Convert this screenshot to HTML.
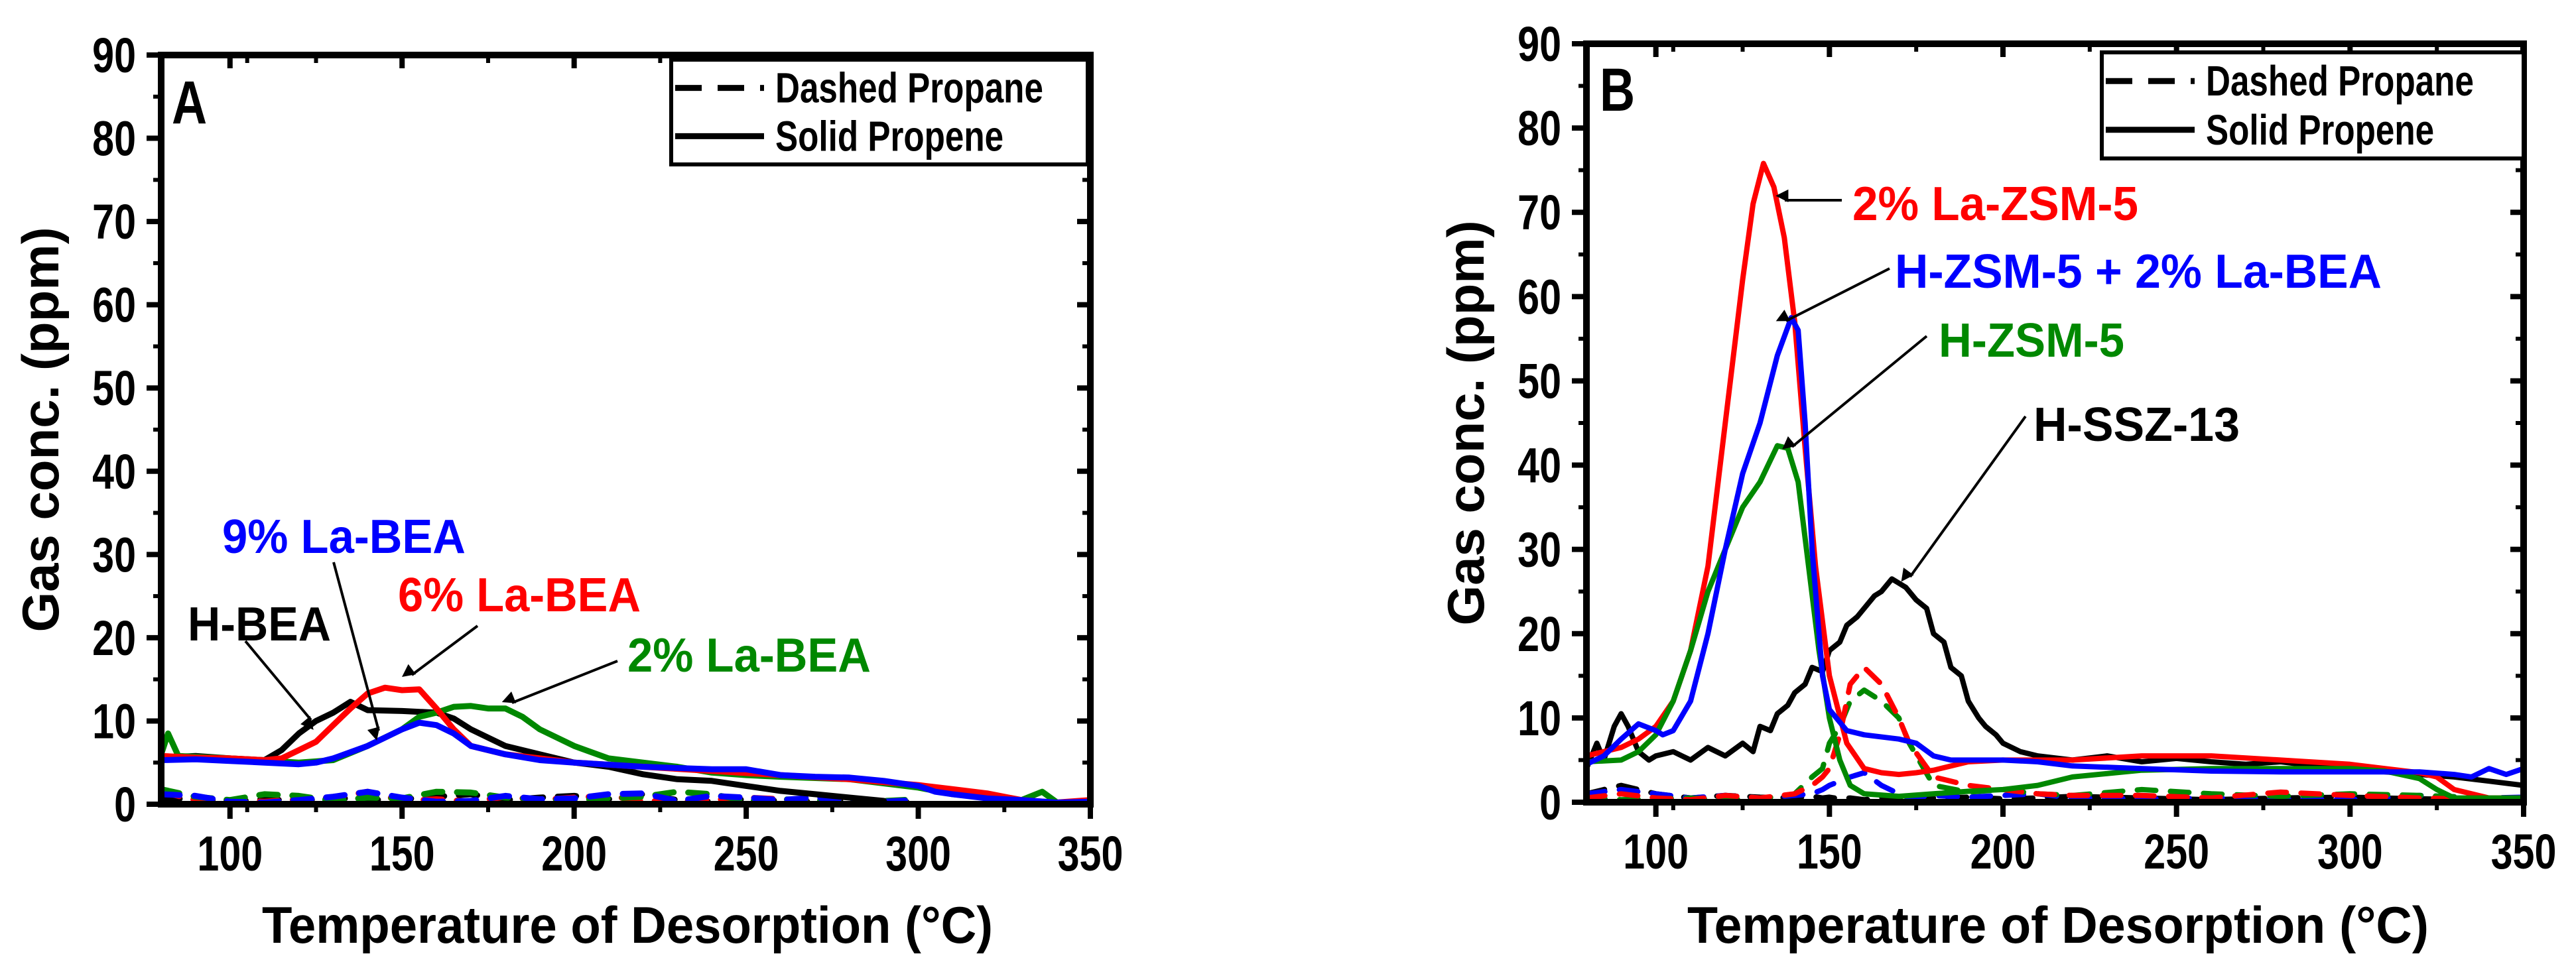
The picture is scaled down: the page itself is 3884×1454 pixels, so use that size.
<!DOCTYPE html>
<html><head><meta charset="utf-8"><style>
html,body{margin:0;padding:0;background:#fff}
svg{display:block}
text{font-family:"Liberation Sans",sans-serif;font-weight:bold}
</style></head><body>
<svg id="chart" width="3884" height="1454" viewBox="0 0 3884 1454" xmlns="http://www.w3.org/2000/svg">
<defs><marker id="ah" viewBox="0 0 10 10" refX="9" refY="5" markerWidth="6" markerHeight="6" orient="auto" markerUnits="userSpaceOnUse" style="overflow:visible"><path d="M0,0 L10,5 L0,10 z" transform="scale(3.2)" fill="#000"/></marker></defs>
<g id="panelA"></g>
<g id="panelB"></g>
</svg>
<script>
const xTicks=[100,150,200,250,300,350];
const yTicks=[0,10,20,30,40,50,60,70,80,90];
// Panel A solid (propene)
const aT_black=[80,90,100,110,115,120,125,130,135,140,150,160,165,170,180,190,200,210,220,230,240,250,260,270,280,290];
const aV_black=[5.6,5.8,5.5,5.3,6.5,8.5,10,11,12.3,11.3,11.2,11,10.3,9,7,6,5,4.5,3.6,3,2.8,2.2,1.6,1.2,0.8,0.4];
const aT_red=[80,90,100,110,115,120,125,130,135,140,145,150,155,160,165,170,180,190,200,220,240,260,280,300,310,320,330,340,350];
const aV_red=[5.8,5.6,5.5,5.3,5.5,6.5,7.5,9.5,11.5,13.3,14,13.7,13.8,11.5,9,7,6,5.5,5,4.5,4,3.5,3,2.3,1.8,1.3,0.5,0.2,0.5];
const aT_blue=[80,90,100,110,120,125,130,140,145,150,155,160,165,170,180,190,200,220,240,250,260,270,280,290,300,305,310,320,330,340,350];
const aV_blue=[5.3,5.4,5.2,5,4.8,5,5.5,7,8,9,9.8,9.5,8.5,7,6,5.3,5,4.5,4.2,4.2,3.5,3.3,3.2,2.8,2.2,1.5,1.2,0.7,0.5,0.2,0.3];
const aT_green=[80,82,85,100,120,130,140,150,155,160,165,170,175,180,185,190,200,210,220,230,240,250,260,280,300,310,320,330,336,340];
const aV_green=[6,8.5,5.8,5.5,5,5.3,7,9,10.5,11,11.7,11.8,11.5,11.5,10.5,9,7,5.5,5,4.5,3.8,3.5,3.3,3,2,1.2,0.8,0.5,1.5,0.3];
// Panel A dashed (propane)
const aD_T=[80,90,100,110,120,130,140,150,160,170,180,190,200,210,220,230,240,250,260,270,280,290,300];
const aD_black=[0.5,0.8,0.3,0.6,0.4,0.8,0.5,0.6,0.9,1.2,0.5,0.8,1.0,0.6,1.2,0.5,0.3,0.6,0.4,0.3,0.5,0.2,0.3];
const aD_red=[1.5,0.5,0.4,0.3,0.6,0.8,1.5,0.4,0.6,0.3,0.9,0.5,0.8,1.0,0.4,0.3,0.5,0.8,0.6,0.4,0.6,0.3,0.2];
const aD_blue=[1.2,1.0,0.3,0.2,0.5,0.9,1.5,0.8,0.3,0.4,1.0,0.6,0.7,1.2,1.3,0.4,1.0,0.8,0.5,0.8,0.6,0.3,0.5];
const aD_green=[1.8,0.9,0.5,1.2,1.0,0.4,0.8,0.7,1.5,1.4,0.8,0.6,0.5,0.7,0.9,1.5,1.2,0.4,0.6,0.5,0.3,0.4,0.6];
// Panel B solid
const bT_red=[80,90,95,100,105,110,115,120,125,128,131,134,137,140,143,146,150,155,160,165,170,175,180,190,200,220,240,260,280,300,310,320,325,330,340,350];
const bV_red=[5.5,6.5,7.5,9,12,18,28,45,62,71,75.8,73,67,57,42,28,15,7,4,3.5,3.3,3.5,3.8,4.8,5,5,5.5,5.5,5,4.5,4,3.5,3,1.5,0.5,0.5];
const bT_blue=[80,85,90,95,100,102,105,110,115,120,125,130,135,139,141,143,145,148,150,155,160,170,175,180,185,200,210,220,240,260,280,300,320,330,335,340,345,350];
const bV_blue=[4.5,5.5,7.5,9.3,8.5,8,8.5,12,20,30,39,45,53,57.5,56,45,30,15,11,8.5,8,7.5,7,5.5,5,5,4.8,4.3,4,3.7,3.6,3.6,3.6,3.3,3,4,3.3,4];
const bT_green=[80,90,95,100,105,110,115,120,125,130,135,138,141,144,147,150,153,156,160,170,180,190,200,210,220,240,260,280,300,310,320,325,330,350];
const bV_green=[4.8,5,6,8,12,18,25,30,35,38,42.3,42,38,28,18,10,5,2,1,0.7,1,1.3,1.5,2,3,3.8,4,4,4,3.7,2.8,1.5,0.5,0.5];
const bT_black=[80,83,85,88,90,92,95,98,100,105,110,115,120,125,128,130,133,135,138,140,143,145,148,150,153,155,158,160,163,165,168,170,172,175,178,180,183,185,188,190,193,195,198,200,205,210,220,230,240,250,260,270,280,290,300,310,320,330,340,350];
const bV_black=[4,7,5,9,10.5,9,6,5,5.5,6,5,6.5,5.5,7,6,9,8.5,10.5,11.5,13,14,16,15.5,18,19,21,22,23,24.5,25,26.5,26,25.5,24,23,20,19,16,15,12,10,9,8,7,6,5.5,5,5.5,4.8,5.2,4.8,4.5,4.8,4.3,4,3.6,3.3,3,2.5,2];
// Panel B dashed
const bD_T=[80,90,100,110,120,130,140,145,148,150,153,156,160,165,170,173,180,190,200,210,220,240,260,280,300,320,340,350];
const bD_red=[0.5,1,0.5,0.3,0.8,0.5,1,2,3,4,8,14,16,14,10,7,3,2,1.5,1,0.8,0.8,0.5,1.2,0.8,0.5,0.3,0.3];
const bD_green=[0.5,0.3,0.4,0.5,0.3,0.4,1,3,4,7,9,12,13.3,12,10,7,2,1.2,1.5,1,0.8,1.5,1,0.7,1,0.8,0.5,0.5];
const bD_blue=[1,1.5,1,0.5,0.8,0.5,0.8,1,1.5,2,2.5,3,3.5,2,1,0.5,0.8,0.6,0.8,1,0.5,0.4,0.5,0.4,0.3,0.8,0.5,0.6];
const bD_black=[1,2,1,0.5,0.8,0.6,0.5,0.7,0.5,0.6,0.4,0.5,0.3,0.5,0.6,0.4,0.5,0.6,0.4,0.5,0.7,0.5,0.3,0.5,0.6,0.4,0.3,0.4];

const NS='http://www.w3.org/2000/svg';
function mk(parent,tag,attrs){const e=document.createElementNS(NS,tag);for(const k in attrs)e.setAttribute(k,attrs[k]);parent.appendChild(e);return e;}
function ntext(parent,x,y,str,size,anchor,fill){
  const t=mk(parent,'text',{x:0,y:0,'font-size':size,'text-anchor':anchor||'start',fill:fill||'#000',transform:`translate(${x},${y}) scale(0.8,1)`});
  t.textContent=str;return t;
}

function panel(g,P,series,anns,letter,legend){
  const sx=t=>P.x0+(t-80)*(P.x1-P.x0)/270;
  const sy=v=>P.y0-v*(P.y0-P.y1)/90;
  series.forEach(s=>{
    const d=s.T.map((t,i)=>(i?'L':'M')+sx(t).toFixed(1)+','+sy(s.V[i]).toFixed(1)).join(' ');
    const p=mk(g,'path',{d:d,fill:'none',stroke:s.c,'stroke-width':P.sw,'stroke-linejoin':'round','stroke-linecap':'round'});
    if(s.dash)p.setAttribute('stroke-dasharray','28 22');
    
    
  });
  const fr=mk(g,'rect',{x:P.x0,y:P.y1,width:P.x1-P.x0,height:P.y0-P.y1,fill:'none',stroke:'#000','stroke-width':10});
  
  
  yTicks.forEach(v=>{
    const y=sy(v);
    mk(g,'line',{x1:P.x0-22,x2:P.x0,y1:y,y2:y,stroke:'#000','stroke-width':8});
    mk(g,'line',{x1:P.x1-20,x2:P.x1,y1:y,y2:y,stroke:'#000','stroke-width':8});
    if(v<90){const m=sy(v+5);mk(g,'line',{x1:P.x0-12,x2:P.x0,y1:m,y2:m,stroke:'#000','stroke-width':6});mk(g,'line',{x1:P.x1-12,x2:P.x1,y1:m,y2:m,stroke:'#000','stroke-width':6});}
    const t=ntext(g,P.x0-38,y+26,String(v),74,'end');
    
    
  });
  [80].concat(xTicks).forEach(v=>{
    const x=sx(v);
    if(v>80){mk(g,'line',{x1:x,x2:x,y1:P.y0,y2:P.y0+22,stroke:'#000','stroke-width':8});mk(g,'line',{x1:x,x2:x,y1:P.y1,y2:P.y1+20,stroke:'#000','stroke-width':8});}
    const m=sx(v+25);
    if(v<350){mk(g,'line',{x1:m,x2:m,y1:P.y0,y2:P.y0+12,stroke:'#000','stroke-width':6});mk(g,'line',{x1:m,x2:m,y1:P.y1,y2:P.y1+12,stroke:'#000','stroke-width':6});}
    if(v>80){const t=ntext(g,x,P.y0+100,String(v),74,'middle');
    
    }
  });
  const xt=mk(g,'text',{x:P.tx0,y:1422,'font-size':78,textLength:P.tw,lengthAdjust:'spacingAndGlyphs'});
  xt.textContent='Temperature of Desorption (°C)';
  
  
  const yt=mk(g,'text',{x:0,y:0,'text-anchor':'middle','font-size':78,transform:`translate(${P.x0-155},${(P.y0+P.y1)/2}) rotate(-90)`});
  yt.textContent='Gas conc. (ppm)';
  
  
  const lt=ntext(g,letter.x,letter.y,letter.t,92,'start');
  
  
  const L=legend;
  const lg=mk(g,'g',{});
  
  
  mk(lg,'rect',{x:L.x,y:L.y,width:L.w,height:L.h,fill:'#fff',stroke:'#000','stroke-width':6});
  mk(lg,'line',{x1:L.x+6,x2:L.x+140,y1:L.y+L.h*0.27,y2:L.y+L.h*0.27,stroke:'#000','stroke-width':9,'stroke-dasharray':'40 24'});
  mk(lg,'line',{x1:L.x+6,x2:L.x+140,y1:L.y+L.h*0.73,y2:L.y+L.h*0.73,stroke:'#000','stroke-width':9});
  const l1=ntext(lg,L.x+157,L.y+L.h*0.27+22,'Dashed Propane',64);
  
  
  const l2=ntext(lg,L.x+157,L.y+L.h*0.73+22,'Solid Propene',64);
  
  
  anns.forEach(a=>{
    const ln=mk(g,'line',{x1:a.a[0],y1:a.a[1],x2:a.a[2],y2:a.a[3],stroke:'#000','stroke-width':4,'marker-end':'url(#ah)'});
    
    
    const t=mk(g,'text',{x:a.x,y:a.y,fill:a.c,'font-size':72,textLength:a.w,lengthAdjust:'spacingAndGlyphs'});
    t.textContent=a.t;
    
    
  });
}

panel(document.getElementById('panelA'),{x0:243,x1:1644,y0:1213,y1:83,sw:9,tx0:395,tw:1102},[
  {T:aD_T,V:aD_black,c:'#000',dash:1,name:'h-bea-propane'},
  {T:aD_T,V:aD_red,c:'#f00',dash:1,name:'6la-bea-propane'},
  {T:aD_T,V:aD_green,c:'#080',dash:1,name:'2la-bea-propane'},
  {T:aD_T,V:aD_blue,c:'#00f',dash:1,name:'9la-bea-propane'},
  {T:aT_black,V:aV_black,c:'#000',name:'h-bea-propene'},
  {T:aT_green,V:aV_green,c:'#080',name:'2la-bea-propene'},
  {T:aT_red,V:aV_red,c:'#f00',name:'6la-bea-propene'},
  {T:aT_blue,V:aV_blue,c:'#00f',name:'9la-bea-propene'}
],[
  {t:'9% La-BEA',c:'#00f',x:335,y:834,w:367,a:[503,848,571,1102]},
  {t:'6% La-BEA',c:'#f00',x:600,y:922,w:366,a:[720,944,621,1018]},
  {t:'H-BEA',c:'#000',x:283,y:966,w:216,a:[370,967,469,1086]},
  {t:'2% La-BEA',c:'#080',x:946,y:1013,w:367,a:[931,997,772,1060]}
],{t:'A',x:259,y:186},{x:1012,y:90,w:628,h:158});

panel(document.getElementById('panelB'),{x0:2392,x1:3805,y0:1210,y1:66,sw:8,tx0:2544,tw:1118},[
  {T:bD_T,V:bD_black,c:'#000',dash:1,name:'h-ssz-13-propane'},
  {T:bD_T,V:bD_blue,c:'#00f',dash:1,name:'h-zsm-5-la-bea-propane'},
  {T:bD_T,V:bD_green,c:'#080',dash:1,name:'h-zsm-5-propane'},
  {T:bD_T,V:bD_red,c:'#f00',dash:1,name:'2la-zsm-5-propane'},
  {T:bT_black,V:bV_black,c:'#000',name:'h-ssz-13-propene'},
  {T:bT_red,V:bV_red,c:'#f00',name:'2la-zsm-5-propene'},
  {T:bT_green,V:bV_green,c:'#080',name:'h-zsm-5-propene'},
  {T:bT_blue,V:bV_blue,c:'#00f',name:'h-zsm-5-la-bea-propene'}
],[
  {t:'2% La-ZSM-5',c:'#f00',x:2793,y:332,w:431,a:[2777,302,2691,302]},
  {t:'H-ZSM-5 + 2% La-BEA',c:'#00f',x:2857,y:434,w:734,a:[2849,405,2693,484]},
  {t:'H-ZSM-5',c:'#080',x:2923,y:538,w:280,a:[2905,507,2702,674]},
  {t:'H-SSZ-13',c:'#000',x:3066,y:665,w:311,a:[3054,628,2880,870]}
],{t:'B',x:2412,y:167},{x:3169,y:79,w:636,h:160});
</script>
</body></html>
